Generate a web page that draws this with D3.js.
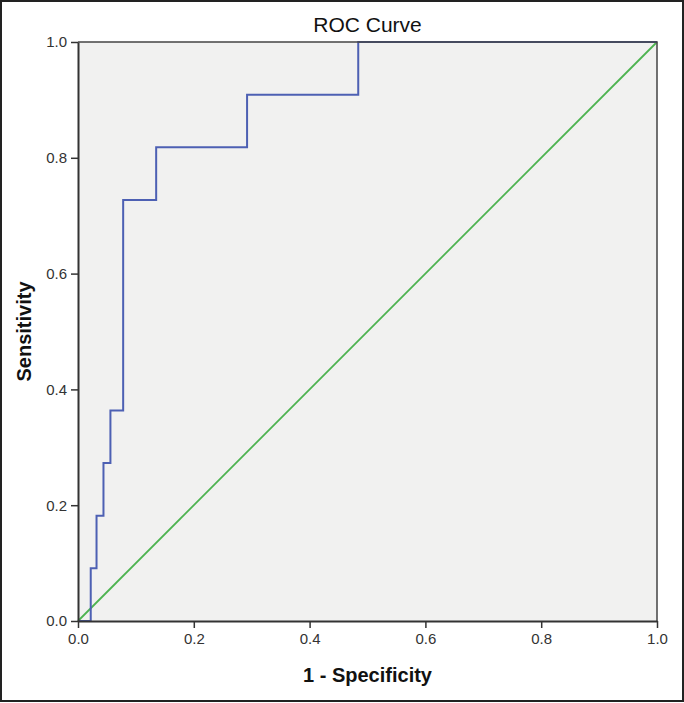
<!DOCTYPE html>
<html>
<head>
<meta charset="utf-8">
<script src="https://cdn.jsdelivr.net/npm/d3@7"></script>
<style>
  body { margin: 0; background: #fff; }
  svg { display: block; }
</style>
</head>
<body>
<svg id="chart"></svg>
<script>
// ROC curve points (1 - specificity, sensitivity)
const fpr = [0, 0.022, 0.022, 0.032, 0.032, 0.044, 0.044, 0.056, 0.056, 0.078, 0.078, 0.135, 0.135, 0.292, 0.292, 0.484, 0.484, 1.0];
const tpr = [0, 0, 0.0909, 0.0909, 0.1818, 0.1818, 0.2727, 0.2727, 0.3636, 0.3636, 0.7273, 0.7273, 0.8182, 0.8182, 0.9091, 0.9091, 1.0, 1.0];
const refLine = [0, 1];
const tickValues = [0, 0.2, 0.4, 0.6, 0.8, 1.0];

const W = 684, H = 703;
const margin = { top: 42, right: 27, bottom: 82, left: 78 };
const width = W - margin.left - margin.right,
  height = H - margin.top - margin.bottom;

const svg = d3.select("#chart").attr("width", W).attr("height", H);

// outer frame of the image
svg.append("rect")
  .attr("x", 1).attr("y", 1)
  .attr("width", W - 2).attr("height", H - 3)
  .attr("fill", "#fff")
  .attr("stroke", "#222")
  .attr("stroke-width", 2);

const g = svg.append("g")
  .attr("transform", "translate(" + margin.left + "," + margin.top + ")");

const x = d3.scaleLinear().domain([0, 1]).range([0, width]);
const y = d3.scaleLinear().domain([0, 1]).range([height, 0]);

// plot background
g.append("rect")
  .attr("width", width).attr("height", height)
  .attr("fill", "#f1f1f0");

// reference diagonal
g.append("path")
  .datum(refLine)
  .attr("fill", "none")
  .attr("stroke", "#4db350")
  .attr("stroke-width", 1.8)
  .attr("d", d3.line().x(d => x(d)).y(d => y(d)));

// ROC line
const pts = fpr.map((v, i) => [v, tpr[i]]);
g.append("path")
  .datum(pts)
  .attr("fill", "none")
  .attr("stroke", "#4d60b3")
  .attr("stroke-width", 2)
  .attr("d", d3.line().x(d => x(d[0])).y(d => y(d[1])));

// frame top/right
g.append("path")
  .attr("d", "M0,0H" + width + "V" + height)
  .attr("fill", "none")
  .attr("stroke", "#444")
  .attr("stroke-width", 1.5);

// axes
const fmt = d3.format(".1f");
const xAxis = g.append("g")
  .attr("transform", "translate(0," + height + ")")
  .call(d3.axisBottom(x).tickValues(tickValues).tickFormat(fmt).tickSize(7).tickSizeOuter(0));
const yAxis = g.append("g")
  .call(d3.axisLeft(y).tickValues(tickValues).tickFormat(fmt).tickSize(7).tickSizeOuter(0));

[xAxis, yAxis].forEach(a => {
  a.select(".domain").attr("stroke", "#333").attr("stroke-width", 2);
  a.selectAll(".tick line").attr("stroke", "#333").attr("stroke-width", 1.5);
  a.selectAll(".tick text")
    .attr("fill", "#333")
    .style("font-family", "Liberation Sans, Arial, sans-serif")
    .style("font-size", "15px");
});
xAxis.selectAll(".tick text").attr("dy", "0.95em").attr("y", 9);
yAxis.selectAll(".tick text").attr("x", -11);

// title
svg.append("text")
  .attr("x", margin.left + width / 2)
  .attr("y", 32)
  .attr("text-anchor", "middle")
  .style("font-family", "Liberation Sans, Arial, sans-serif")
  .style("font-size", "21px")
  .attr("fill", "#111")
  .text("ROC Curve");

// axis labels
svg.append("text")
  .attr("x", margin.left + width / 2)
  .attr("y", 682)
  .attr("text-anchor", "middle")
  .style("font-family", "Liberation Sans, Arial, sans-serif")
  .style("font-size", "20px")
  .style("font-weight", "bold")
  .attr("fill", "#111")
  .text("1 - Specificity");

svg.append("text")
  .attr("transform", "translate(31," + (margin.top + height / 2) + ") rotate(-90)")
  .attr("text-anchor", "middle")
  .style("font-family", "Liberation Sans, Arial, sans-serif")
  .style("font-size", "20px")
  .style("font-weight", "bold")
  .attr("fill", "#111")
  .text("Sensitivity");
</script>
</body>
</html>
